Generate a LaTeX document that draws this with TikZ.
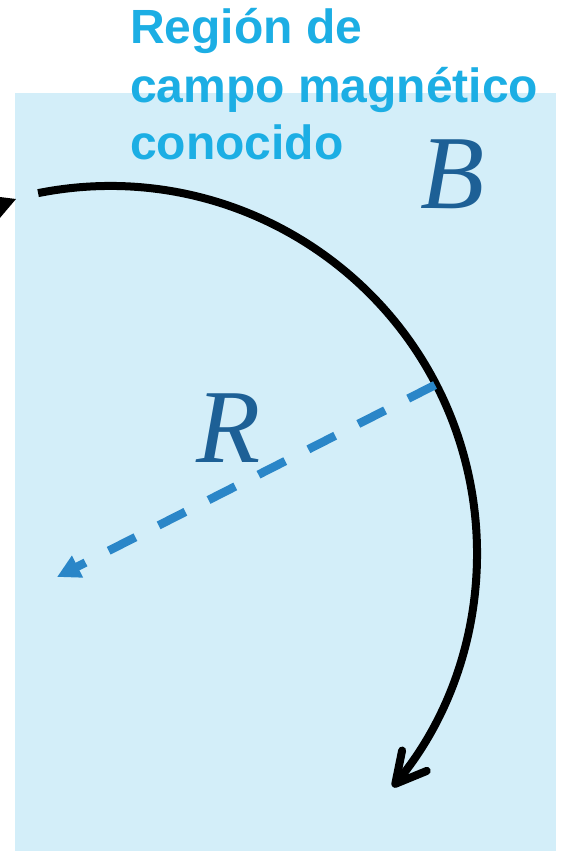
\documentclass[tikz,border=0pt]{standalone}
\usepackage{fontspec}
\setmainfont{Liberation Sans}
\newfontfamily\symserif{Liberation Serif}
\usetikzlibrary{arrows.meta}
\definecolor{regionfill}{HTML}{D3EEF9}
\definecolor{labelcyan}{HTML}{1CAEE4}
\definecolor{symblue}{HTML}{1D6096}
\definecolor{dashblue}{HTML}{2A86C8}
\tikzset{
  labeltext/.style={anchor=base west, inner sep=0pt, text=labelcyan, font=\bfseries\fontsize{48}{57}\selectfont},
  symtext/.style={anchor=base west, inner sep=0pt, text=symblue, font=\symserif\itshape\fontsize{105}{105}\selectfont},
  orbit/.style={line width=8pt, -{Straight Barb[length=30pt,width=32pt,line cap=round,line join=round]}},
  radiusline/.style={dashblue, line width=8.5pt, dash pattern=on 30pt off 26pt, -{Triangle[length=23pt,width=23pt]}}
}
\begin{document}
\begin{tikzpicture}[x=1pt,y=1pt]
\useasboundingbox (0,0) rectangle (564,-851);
\fill[regionfill] (15,-93) rectangle (556,-851);
% partial arrowhead at left edge
\fill[black] (16,-199) -- (-12,-195.5) -- (-12,-232) -- cycle;
% title
\node[labeltext] (t1) at (130,-44) {Región de};
\node[labeltext] (t2) at (130,-102) {campo magnético};
\node[labeltext] (t3) at (130,-159) {conocido};
% symbols
\node[symtext] (b) at (420,-208) {B};
\node[symtext] (r) at (196,-462) {R};
% orbit
\coordinate (c) at (110,-553);
\draw[orbit] (c) ++(101.3:367pt) arc[start angle=101.3, end angle=-39.6, radius=367pt];
% radius
\coordinate (ds) at (435,-385);
\coordinate (de) at (57,-577);
\draw[radiusline] (ds) -- (de);
\end{tikzpicture}
\end{document}
